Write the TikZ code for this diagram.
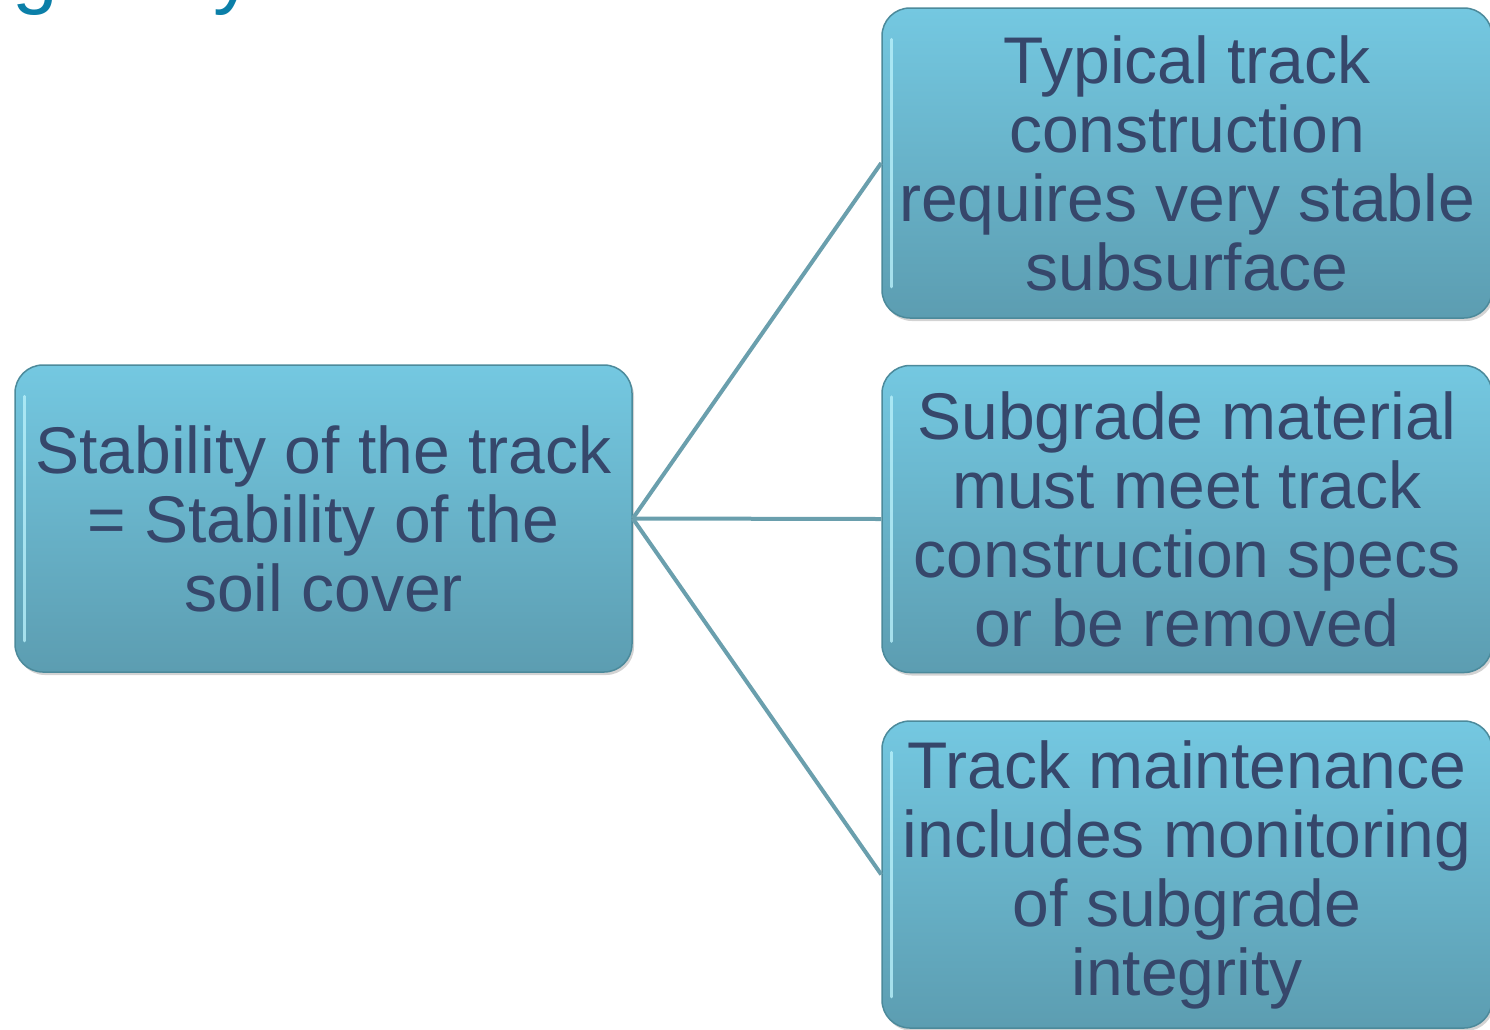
\documentclass[tikz,border=0pt]{standalone}
\usepackage{fontspec}
\setmainfont{Liberation Sans}
\usetikzlibrary{shadows}
\definecolor{boxtop}{HTML}{74C8E1}
\definecolor{boxbot}{HTML}{5C9DB1}
\definecolor{boxline}{HTML}{4C8A9B}
\definecolor{boxtext}{HTML}{36476B}
\definecolor{conn}{HTML}{6A9FAD}
\definecolor{titleblue}{HTML}{0B7FA8}
\definecolor{hilite}{HTML}{B8F0FA}
\tikzset{
  box/.style={draw=boxline, line width=1.5pt, rounded corners=28pt,
    top color=boxtop, bottom color=boxbot,
    drop shadow={shadow xshift=2pt, shadow yshift=-3pt, opacity=0.35},
    align=center, text=boxtext, inner sep=0pt,
    font=\fontsize{66}{69}\selectfont},
  connector/.style={draw=conn, line width=4pt},
  titletext/.style={text=titleblue, inner sep=0pt, font=\fontsize{82}{90}\selectfont},
  bevel/.style={draw=hilite, line width=3pt, line cap=round, opacity=0.8}
}
\begin{document}
\begin{tikzpicture}[x=1pt,y=-1pt]
\useasboundingbox (0,0) rectangle (1490,1029);
% cut-off title
\node[titletext, anchor=base west] (tg) at (12,-2) {g};
\node[titletext, anchor=base west] (ty) at (213,-2) {y};
% boxes
\node[box, minimum width=617pt, minimum height=307pt] (L) at (323.5,518.5)
  {Stability of the track\\= Stability of the\\soil cover};
\node[box, minimum width=610pt, minimum height=310pt] (R1) at (1187,163)
  {Typical track\\construction\\requires very stable\\subsurface};
\node[box, minimum width=610pt, minimum height=307pt] (R2) at (1187,519)
  {Subgrade material\\must meet track\\construction specs\\or be removed};
\node[box, minimum width=610pt, minimum height=307pt] (R3) at (1187,874.5)
  {Track maintenance\\includes monitoring\\of subgrade\\integrity};
% bevel highlights
\foreach \n in {L,R1,R2,R3}{
  \draw[bevel] ([xshift=10pt,yshift=32pt]\n.south west) -- ([xshift=10pt,yshift=-32pt]\n.north west);
}
% connectors
\draw[connector] (L.east) -- (R1.west);
\draw[connector] (L.east) -- (R2.west);
\draw[connector] (L.east) -- (R3.west);
\end{tikzpicture}
\end{document}
